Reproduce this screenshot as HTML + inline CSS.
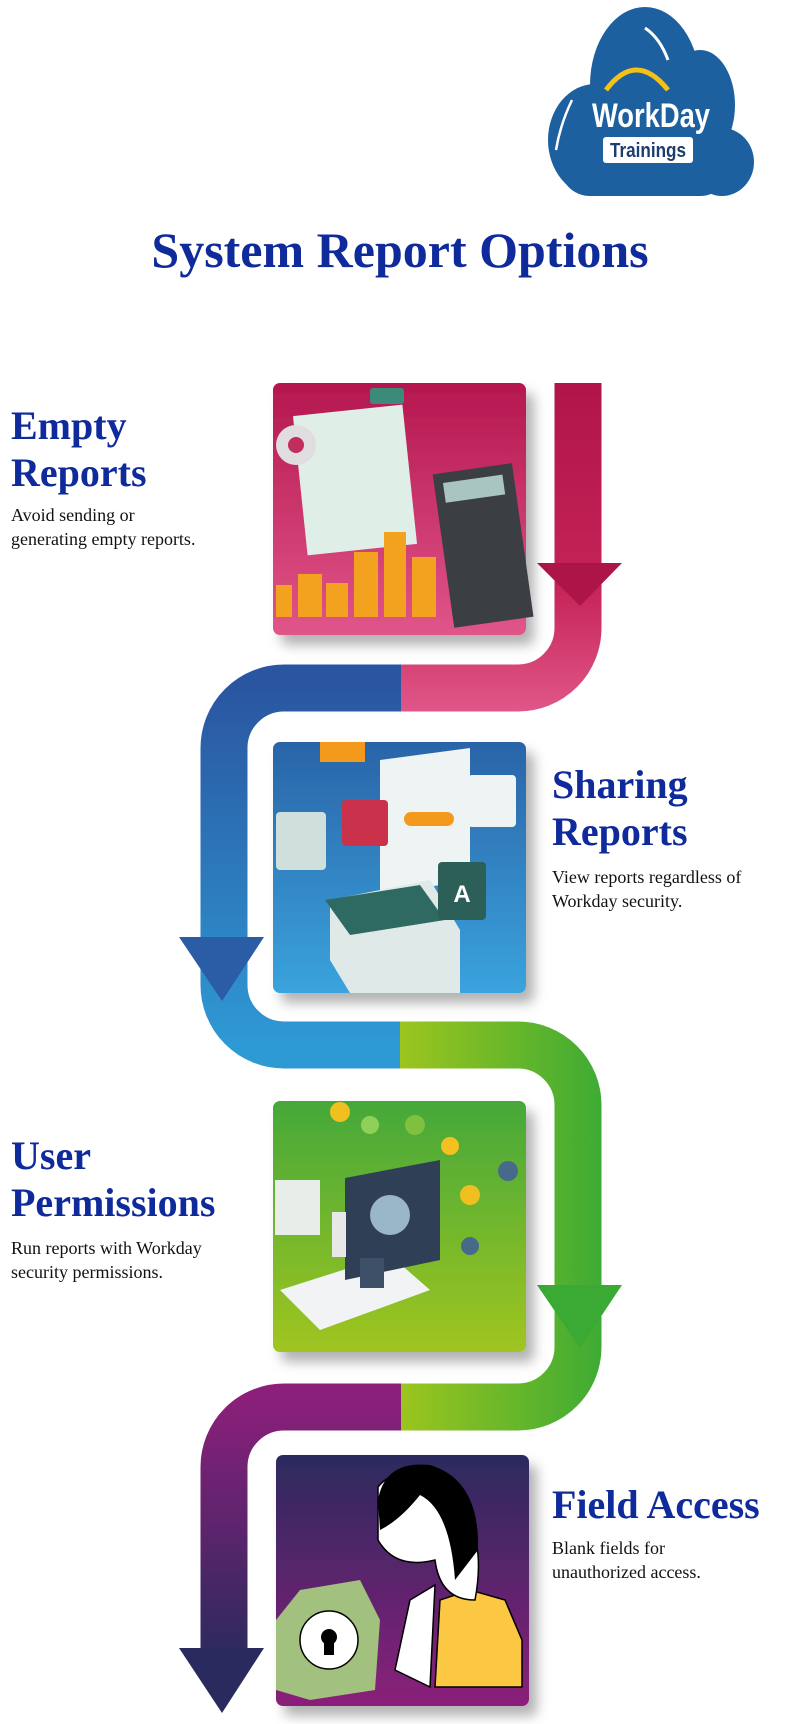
<!DOCTYPE html>
<html><head><meta charset="utf-8"><style>
html,body{margin:0;padding:0;background:#fff;}
body{width:800px;height:1724px;position:relative;overflow:hidden;font-family:"Liberation Serif",serif;}
.h{position:absolute;color:#0f2a9b;font-weight:bold;font-size:40px;line-height:47px;margin:0;}
.d{position:absolute;color:#111;font-size:18px;line-height:24px;}
.t{position:absolute;left:0;width:800px;text-align:center;top:222px;color:#0f2a9b;font-weight:bold;font-size:50px;line-height:56px;}
</style></head><body>
<svg width="800" height="1724" style="position:absolute;left:0;top:0">
<defs>
<linearGradient id="gA" gradientUnits="userSpaceOnUse" x1="0" y1="383" x2="0" y2="720"><stop offset="0" stop-color="#b0154a"/><stop offset="0.6" stop-color="#c52357"/><stop offset="1" stop-color="#e25a8c"/></linearGradient>
<linearGradient id="gB" gradientUnits="userSpaceOnUse" x1="0" y1="680" x2="0" y2="1050"><stop offset="0" stop-color="#2a55a0"/><stop offset="1" stop-color="#2e9ad4"/></linearGradient>
<linearGradient id="gC" gradientUnits="userSpaceOnUse" x1="400" y1="0" x2="610" y2="0"><stop offset="0" stop-color="#9cc51e"/><stop offset="1" stop-color="#3aaa35"/></linearGradient>
<linearGradient id="gD" gradientUnits="userSpaceOnUse" x1="0" y1="1400" x2="0" y2="1660"><stop offset="0" stop-color="#8b1f7a"/><stop offset="1" stop-color="#2b2a5e"/></linearGradient>
<linearGradient id="c1" x1="0" y1="0" x2="0" y2="1"><stop offset="0" stop-color="#b5174f"/><stop offset="1" stop-color="#e0558a"/></linearGradient>
<linearGradient id="c2" x1="0" y1="0" x2="0" y2="1"><stop offset="0" stop-color="#2a64a8"/><stop offset="1" stop-color="#3aa3dd"/></linearGradient>
<linearGradient id="c3" x1="0" y1="0" x2="0" y2="1"><stop offset="0" stop-color="#45a83a"/><stop offset="1" stop-color="#a0c520"/></linearGradient>
<linearGradient id="c4" x1="0" y1="0" x2="0" y2="1"><stop offset="0" stop-color="#2b2a5e"/><stop offset="1" stop-color="#8b1f7a"/></linearGradient>
<filter id="sh" x="-10%" y="-10%" width="130%" height="130%"><feDropShadow dx="8" dy="10" stdDeviation="6" flood-color="#000" flood-opacity="0.3"/></filter>
</defs>
<!-- logo -->
<g fill="#1c60a0">
<ellipse cx="645" cy="85" rx="55" ry="78"/>
<ellipse cx="595" cy="140" rx="47" ry="56"/>
<ellipse cx="700" cy="105" rx="35" ry="55"/>
<ellipse cx="722" cy="162" rx="32" ry="34"/>
<rect x="560" y="120" width="170" height="76" rx="30"/>
</g>
<path d="M606 90 Q636 50 668 90" stroke="#f5c116" stroke-width="5" fill="none"/>
<path d="M645 28 Q660 38 668 60" stroke="#fff" stroke-width="3" fill="none"/>
<path d="M572 100 Q560 125 556 150" stroke="#fff" stroke-width="2.5" fill="none"/>
<text x="592" y="127" fill="#fff" font-family="Liberation Sans, sans-serif" font-size="34" font-weight="bold" textLength="118" lengthAdjust="spacingAndGlyphs">WorkDay</text>
<rect x="603" y="137" width="90" height="26" rx="3" fill="#fff"/>
<text x="648" y="157" fill="#1d3d6e" font-family="Liberation Sans, sans-serif" font-size="20" font-weight="bold" text-anchor="middle" textLength="76" lengthAdjust="spacingAndGlyphs">Trainings</text>

<!-- bands -->
<g fill="none" stroke-width="47">
<path d="M578 383 V628 A60 60 0 0 1 518 688 H400" stroke="url(#gA)"/>
<path d="M401 688 H284 A60 60 0 0 0 224 748 V985 A60 60 0 0 0 284 1045 H401" stroke="url(#gB)"/>
<path d="M400 1045 H518 A60 60 0 0 1 578 1105 V1347 A60 60 0 0 1 518 1407 H400" stroke="url(#gC)"/>
<path d="M401 1407 H284 A60 60 0 0 0 224 1467 V1660" stroke="url(#gD)"/>
</g>
<polygon points="537,563 622,563 580,606" fill="#ad1448"/>
<polygon points="179,937 264,937 222,1001" fill="#2b5ca6"/>
<polygon points="537,1285 622,1285 580,1348" fill="#3aaa35"/>
<polygon points="179,1648 264,1648 222,1713" fill="#2b2a5e"/>

<!-- card 1 -->
<g filter="url(#sh)"><rect x="273" y="383" width="253" height="252" rx="7" fill="url(#c1)"/></g>
<rect x="300" y="410" width="110" height="140" fill="#dfeee6" transform="rotate(-6 355 480)"/>
<rect x="370" y="388" width="34" height="16" rx="3" fill="#3b8a7a"/>
<circle cx="296" cy="445" r="20" fill="#e0dde0"/><circle cx="296" cy="445" r="8" fill="#c22d5e"/>
<rect x="443" y="468" width="80" height="155" fill="#3b3e42" transform="rotate(-8 483 545)"/>
<rect x="452" y="478" width="60" height="20" fill="#a8c6bf" transform="rotate(-8 483 545)"/>
<g fill="#f2a21e">
<rect x="276" y="585" width="16" height="32"/><rect x="298" y="574" width="24" height="43"/><rect x="326" y="583" width="22" height="34"/><rect x="354" y="552" width="24" height="65"/><rect x="384" y="532" width="22" height="85"/><rect x="412" y="557" width="24" height="60"/>
</g>
<!-- card 2 -->
<g filter="url(#sh)"><rect x="273" y="742" width="253" height="251" rx="7" fill="url(#c2)"/></g>
<path d="M380 760 L470 748 L470 880 L380 895 Z" fill="#eef3f4"/>
<path d="M330 900 L430 880 L460 930 L460 993 L350 993 L330 960 Z" fill="#dfe9e8"/>
<path d="M325 900 L420 885 L445 920 L350 935 Z" fill="#2e6a62"/>
<rect x="404" y="812" width="50" height="14" rx="7" fill="#f39a1c"/>
<rect x="468" y="775" width="48" height="52" rx="4" fill="#eef3f4"/>
<rect x="276" y="812" width="50" height="58" rx="4" fill="#cfe0dc"/>
<rect x="342" y="800" width="46" height="46" rx="4" fill="#c9324a"/>
<rect x="438" y="862" width="48" height="58" rx="4" fill="#2c5f57"/>
<text x="462" y="902" fill="#fff" font-family="Liberation Sans,sans-serif" font-size="24" font-weight="bold" text-anchor="middle">A</text>
<rect x="320" y="742" width="45" height="20" fill="#f39a1c"/>
<!-- card 3 -->
<g filter="url(#sh)"><rect x="273" y="1101" width="253" height="251" rx="7" fill="url(#c3)"/></g>
<path d="M280 1290 L390 1255 L430 1290 L320 1330 Z" fill="#f2f3f5"/>
<path d="M345 1178 L440 1160 L440 1260 L345 1280 Z" fill="#2f3f55"/>
<circle cx="390" cy="1215" r="20" fill="#9ab6c9"/>
<rect x="275" y="1180" width="45" height="55" fill="#e7eee9"/>
<circle cx="340" cy="1112" r="10" fill="#f0c020"/><circle cx="370" cy="1125" r="9" fill="#8fd05a"/><circle cx="415" cy="1125" r="10" fill="#7fc040"/><circle cx="450" cy="1146" r="9" fill="#f5c020"/><circle cx="470" cy="1195" r="10" fill="#f0c020"/><circle cx="508" cy="1171" r="10" fill="#486a8a"/><circle cx="470" cy="1246" r="9" fill="#486a8a"/>
<rect x="332" y="1212" width="14" height="45" fill="#e8e8e8"/><rect x="360" y="1258" width="24" height="30" fill="#3d5068"/>
<!-- card 4 -->
<g filter="url(#sh)"><rect x="276" y="1455" width="253" height="251" rx="7" fill="url(#c4)"/></g>
<path d="M435 1687 L440 1600 L470 1590 L505 1600 L522 1640 L522 1687 Z" fill="#fcc844" stroke="#000" stroke-width="1.5"/>
<path d="M378 1487 Q400 1460 440 1490 Q490 1520 475 1600 Q440 1600 435 1560 Q395 1570 378 1540 Z" fill="#fff" stroke="#000" stroke-width="1.5"/>
<path d="M378 1500 Q385 1460 430 1465 Q480 1480 478 1550 L455 1580 Q450 1510 420 1495 Q400 1520 380 1530 Z" fill="#000"/>
<path d="M395 1670 L410 1600 L435 1585 L430 1687 Z" fill="#fff" stroke="#000" stroke-width="1.5"/>
<path d="M300 1590 L360 1580 L380 1620 L375 1690 L310 1700 L276 1690 L276 1620 Z" fill="#a2c07e"/>
<circle cx="329" cy="1640" r="29" fill="#fff" stroke="#000" stroke-width="1.5"/>
<circle cx="329" cy="1637" r="8" fill="#000"/><rect x="324" y="1640" width="10" height="15" fill="#000"/>
</svg>
<div class="t">System Report Options</div>
<div class="h" style="left:11px;top:402px">Empty<br>Reports</div>
<div class="d" style="left:11px;top:503px">Avoid sending or<br>generating empty reports.</div>
<div class="h" style="left:552px;top:761px">Sharing<br>Reports</div>
<div class="d" style="left:552px;top:865px">View reports regardless of<br>Workday security.</div>
<div class="h" style="left:11px;top:1132px">User<br>Permissions</div>
<div class="d" style="left:11px;top:1236px">Run reports with Workday<br>security permissions.</div>
<div class="h" style="left:552px;top:1481px">Field Access</div>
<div class="d" style="left:552px;top:1536px">Blank fields for<br>unauthorized access.</div>
</body></html>
